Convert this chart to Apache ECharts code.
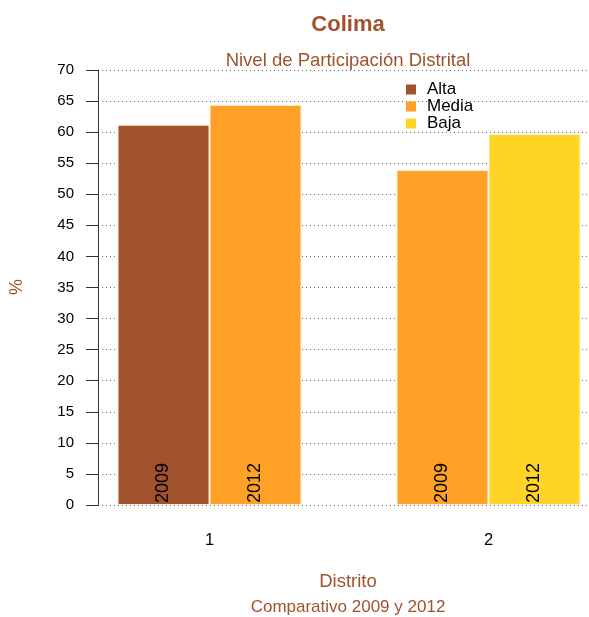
<!DOCTYPE html>
<html><head><meta charset="utf-8">
<script src="https://cdn.jsdelivr.net/npm/echarts@6/dist/echarts.min.js"></script>
<style>html,body{margin:0;padding:0;background:#fff}#c{width:589px;height:617px}</style>
</head><body><div id="c"></div>
<script>
const distritos = ['1', '2'];
const years = ['2009', '2012'];
const values2009 = [61.2, 53.9];
const values2012 = [64.4, 59.7];
const levels2009 = ['Alta', 'Media'];
const levels2012 = ['Media', 'Baja'];
const levelNames = ['Alta', 'Media', 'Baja'];
const levelColors = {Alta: '#A0522D', Media: '#FFA126', Baja: '#FFD426'};
const yTicks = {min: 0, max: 70, step: 5};

const FONT = '"Liberation Sans", Arial, Helvetica, sans-serif';
const SIENNA = '#A0522D';
const chart = echarts.init(document.getElementById('c'), null, {renderer: 'canvas'});

function mkBar(name, vals, lv) {
  return {
    name: name, type: 'bar', xAxisIndex: 1, yAxisIndex: 1,
    barWidth: 92, barGap: '0%',
    data: vals.map((v, i) => ({value: v, itemStyle: {color: levelColors[lv[i]]}})),
    itemStyle: {borderColor: '#FFF3DC', borderWidth: 1},
    label: {show: true, position: 'insideBottom', rotate: 90, align: 'left', verticalAlign: 'middle',
      distance: 2, formatter: name, color: '#000', fontSize: 18, fontFamily: FONT},
    emphasis: {disabled: true}, animation: false
  };
}

const legendSeries = levelNames.map(n => ({
  name: n, type: 'bar', xAxisIndex: 0, yAxisIndex: 0, data: [],
  itemStyle: {color: levelColors[n]}
}));

chart.setOption({
  animation: false,
  textStyle: {fontFamily: FONT},
  grid: [
    {left: 98, right: 0, top: 70, height: 435, containLabel: false, outerBoundsMode: 'none'},
    {left: 70, width: 558, top: 70, height: 435, containLabel: false, outerBoundsMode: 'none'}
  ],
  xAxis: [
    {gridIndex: 0, type: 'value', min: 0, max: 1, show: false},
    {gridIndex: 1, type: 'category', data: distritos,
      axisLine: {show: false}, axisTick: {show: false}, splitLine: {show: false},
      axisLabel: {color: '#000', fontSize: 16.5, margin: 27, fontFamily: FONT}}
  ],
  yAxis: [
    {gridIndex: 0, type: 'value', min: yTicks.min, max: yTicks.max, interval: yTicks.step,
      axisLine: {show: true, lineStyle: {color: '#333', width: 1}},
      axisTick: {show: true, length: 12, lineStyle: {color: '#333', width: 1}},
      axisLabel: {color: '#000', fontSize: 15, margin: 24, fontFamily: FONT},
      splitLine: {show: true, lineStyle: {color: '#666', type: [1, 3], width: 1}}},
    {gridIndex: 1, type: 'value', min: yTicks.min, max: yTicks.max, show: false, splitLine: {show: false}}
  ],
  legend: {
    data: levelNames, orient: 'vertical', left: 406, top: 81, icon: 'rect',
    itemWidth: 10, itemHeight: 10, itemGap: 0, padding: 0,
    textStyle: {color: '#000', fontSize: 17, lineHeight: 17, fontFamily: FONT, padding: [0, 0, 0, 6]},
    selectedMode: false
  },
  series: [mkBar(years[0], values2009, levels2009), mkBar(years[1], values2012, levels2012)].concat(legendSeries),
  graphic: [
    {type: 'text', x: 348, y: 25, style: {text: 'Colima', textAlign: 'center', textVerticalAlign: 'middle',
      fill: SIENNA, font: 'bold 22px ' + FONT}},
    {type: 'text', x: 348, y: 61, style: {text: 'Nivel de Participación Distrital', textAlign: 'center', textVerticalAlign: 'middle',
      fill: SIENNA, font: '18.5px ' + FONT}},
    {type: 'text', x: 17, y: 287, rotation: Math.PI / 2, style: {text: '%', textAlign: 'center', textVerticalAlign: 'middle',
      fill: SIENNA, font: '18px ' + FONT}},
    {type: 'text', x: 348, y: 582, style: {text: 'Distrito', textAlign: 'center', textVerticalAlign: 'middle',
      fill: SIENNA, font: '18.5px ' + FONT}},
    {type: 'text', x: 348, y: 607, style: {text: 'Comparativo 2009 y 2012', textAlign: 'center', textVerticalAlign: 'middle',
      fill: SIENNA, font: '17px ' + FONT}}
  ]
});
</script></body></html>
